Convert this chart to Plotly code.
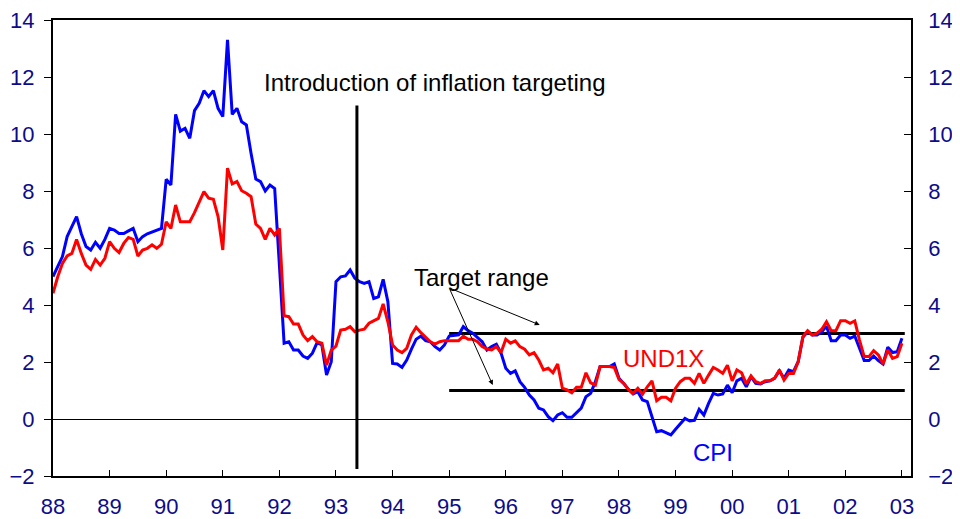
"""Swedish inflation: CPI vs UND1X with inflation target range."""

import plotly.graph_objects as go

# monthly observations, Jan 1988 .. Jan 2003
start_year = 1988

cpi = [
    5.0, 5.35, 5.7, 6.4, 6.75, 7.1, 6.5, 6.05, 5.93, 6.2, 5.99, 6.3,
    6.69, 6.63, 6.51, 6.51, 6.6, 6.69, 6.22, 6.40, 6.5, 6.57, 6.63, 6.69,
    8.41, 8.21, 10.69, 10.1, 10.2, 9.85, 10.82, 11.08, 11.52, 11.31, 11.52, 10.90,
    10.61, 13.30, 10.69, 10.90, 10.43, 10.32, 9.32, 8.42, 8.33, 8.0, 8.21, 8.09,
    5.4, 2.66, 2.71, 2.42, 2.42, 2.21, 2.13, 2.31, 2.68, 2.60, 1.54, 2.01,
    4.82, 4.99, 5.02, 5.23, 4.94, 4.82, 4.76, 4.82, 4.23, 4.29, 4.90, 4.12,
    1.95, 1.93, 1.81, 2.07, 2.45, 2.80, 2.91, 2.75, 2.71, 2.54, 2.42, 2.60,
    2.91, 2.93, 2.95, 3.24, 3.10, 3.01, 2.87, 2.71, 2.42, 2.54, 2.62, 2.31,
    1.78, 1.60, 1.69, 1.31, 1.11, 0.84, 0.67, 0.38, 0.32, 0.08, -0.06, 0.14,
    0.22, 0.06, 0.06, 0.22, 0.38, 0.78, 0.90, 1.31, 1.84, 1.84, 1.84, 1.93,
    1.43, 1.25, 1.04, 0.88, 0.96, 0.67, 0.61, 0.08, -0.45, -0.41, -0.48, -0.56,
    -0.36, -0.15, 0.02, -0.07, -0.05, 0.34, 0.14, 0.55, 0.90, 0.84, 0.88, 1.19,
    0.92, 1.34, 1.43, 1.13, 1.48, 1.25, 1.23, 1.31, 1.34, 1.43, 1.69, 1.43,
    1.72, 1.66, 2.01, 2.87, 3.06, 2.95, 2.95, 3.06, 3.26, 2.75, 2.75, 2.95,
    2.95, 2.83, 2.91, 2.48, 2.05, 2.05, 2.21, 2.05, 1.93, 2.52, 2.33, 2.36,
    2.83,
]

und1x = [
    4.41, 4.99, 5.46, 5.72, 5.81, 6.30, 5.81, 5.40, 5.25, 5.60, 5.40, 5.64,
    6.22, 5.99, 5.84, 6.16, 6.37, 6.30, 5.72, 5.93, 5.99, 6.11, 5.99, 6.13,
    6.92, 6.69, 7.51, 6.92, 6.92, 6.92, 7.24, 7.59, 7.98, 7.75, 7.71, 7.10,
    5.93, 8.80, 8.25, 8.33, 8.01, 7.92, 7.80, 6.84, 6.69, 6.30, 6.69, 6.46,
    6.69, 3.62, 3.59, 3.33, 3.33, 2.95, 2.75, 2.89, 2.71, 2.66, 1.89, 2.42,
    2.56, 3.12, 3.15, 3.24, 3.06, 3.12, 3.15, 3.36, 3.45, 3.53, 4.04, 3.41,
    2.60, 2.42, 2.33, 2.48, 2.95, 3.22, 3.03, 2.87, 2.71, 2.63, 2.71, 2.75,
    2.75, 2.75, 2.75, 2.91, 2.80, 2.80, 2.71, 2.54, 2.45, 2.42, 2.54, 2.33,
    2.80, 2.66, 2.74, 2.54, 2.45, 2.25, 2.33, 2.07, 1.72, 1.78, 1.62, 1.93,
    1.08, 1.02, 0.92, 1.11, 1.11, 1.62, 1.27, 1.19, 1.84, 1.84, 1.84, 1.81,
    1.39, 1.25, 1.04, 0.90, 1.08, 0.87, 1.13, 1.34, 0.64, 0.76, 0.76, 0.64,
    1.08, 1.31, 1.43, 1.43, 1.25, 1.60, 1.25, 1.54, 1.81, 1.72, 1.60, 1.89,
    1.34, 1.72, 1.62, 1.23, 1.51, 1.31, 1.25, 1.34, 1.34, 1.43, 1.72, 1.37,
    1.60, 1.60, 2.01, 2.89, 3.10, 2.95, 3.01, 3.15, 3.41, 3.10, 3.10, 3.45,
    3.45, 3.36, 3.44, 2.77, 2.19, 2.19, 2.40, 2.25, 1.93, 2.42, 2.13, 2.19,
    2.66,
]

# target range 2% +/- 1 from 1995
target_x = [1995.0, 2003.05]
target_lo = [1, 1]
target_hi = [3, 3]

tick_years = list(range(1988, 2004))
tick_labels = [f"{y % 100:02d}" for y in tick_years]

intro_x = 1993.37

months = [start_year + i / 12 for i in range(len(cpi))]

FONT = "Liberation Sans, Arial, sans-serif"
TICK_COLOR = "#0c0c8a"

fig = go.Figure()

for lvl in (target_lo, target_hi):
    fig.add_trace(
        go.Scatter(
            x=target_x, y=lvl, mode="lines",
            line=dict(color="black", width=3), hoverinfo="skip",
        )
    )

fig.add_trace(
    go.Scatter(x=months, y=cpi, mode="lines", name="CPI",
               line=dict(color="#0000ff", width=3))
)
fig.add_trace(
    go.Scatter(x=months, y=und1x, mode="lines", name="UND1X",
               line=dict(color="#ff0000", width=3))
)
# dummy trace so the right-hand axis is drawn
fig.add_trace(
    go.Scatter(x=[start_year], y=[0], yaxis="y2", mode="markers",
               marker=dict(opacity=0), hoverinfo="skip")
)

# introduction of inflation targeting
fig.add_shape(
    type="line", x0=intro_x, x1=intro_x, y0=-1.75, y1=11,
    xref="x", yref="y", line=dict(color="black", width=3),
)

txt = dict(family=FONT, size=24)
fig.add_annotation(
    x=1991.69, y=11.82, text="Introduction of inflation targeting",
    showarrow=False, xanchor="left", yanchor="middle", font=dict(txt, color="black"),
)
fig.add_annotation(
    x=1994.34, y=4.95, text="Target range",
    showarrow=False, xanchor="left", yanchor="middle", font=dict(txt, color="black"),
)
for hx, hy in [(1996.6, 3.3), (1995.77, 1.19)]:
    fig.add_annotation(
        x=hx, y=hy, ax=1995.0, ay=4.6, axref="x", ayref="y",
        text="", showarrow=True, arrowhead=2, arrowsize=1, arrowwidth=1,
        arrowcolor="black", standoff=0,
    )
fig.add_annotation(
    x=1998.78, y=2.14, text="UND1X", showarrow=False,
    font=dict(txt, color="#ff0000"),
)
fig.add_annotation(
    x=1999.66, y=-1.16, text="CPI", showarrow=False,
    font=dict(txt, color="#0000ff"),
)

# the page body adds an 8px margin, so the figure is sized to fit inside it
fig.update_layout(
    width=952, height=511,
    margin=dict(l=45, r=49, t=12, b=43),
    paper_bgcolor="white", plot_bgcolor="white",
    showlegend=False,
    font=dict(family=FONT, size=22, color=TICK_COLOR),
    xaxis=dict(
        range=[1988, 2003.16], automargin=False,
        tickvals=tick_years, ticktext=tick_labels,
        ticks="inside", ticklen=6, tickcolor="black",
        showgrid=False, zeroline=False,
        showline=True, linecolor="black", linewidth=1.5, mirror=True,
        ticklabelstandoff=10, ticklabeloverflow="allow",
    ),
    yaxis=dict(
        range=[-2, 14], dtick=2, automargin=False,
        ticks="outside", ticklen=7, tickcolor="black",
        showgrid=False,
        zeroline=True, zerolinecolor="black", zerolinewidth=1,
        showline=True, linecolor="black", linewidth=2,
        ticklabelstandoff=5, ticklabeloverflow="allow",
    ),
    yaxis2=dict(
        range=[-2, 14], dtick=2, overlaying="y", side="right", automargin=False,
        ticks="inside", ticklen=7, tickcolor="black",
        showgrid=False, zeroline=False,
        showline=True, linecolor="black", linewidth=1.5,
        ticklabelstandoff=11, ticklabeloverflow="allow",
    ),
)

fig.write_html("out.html")
